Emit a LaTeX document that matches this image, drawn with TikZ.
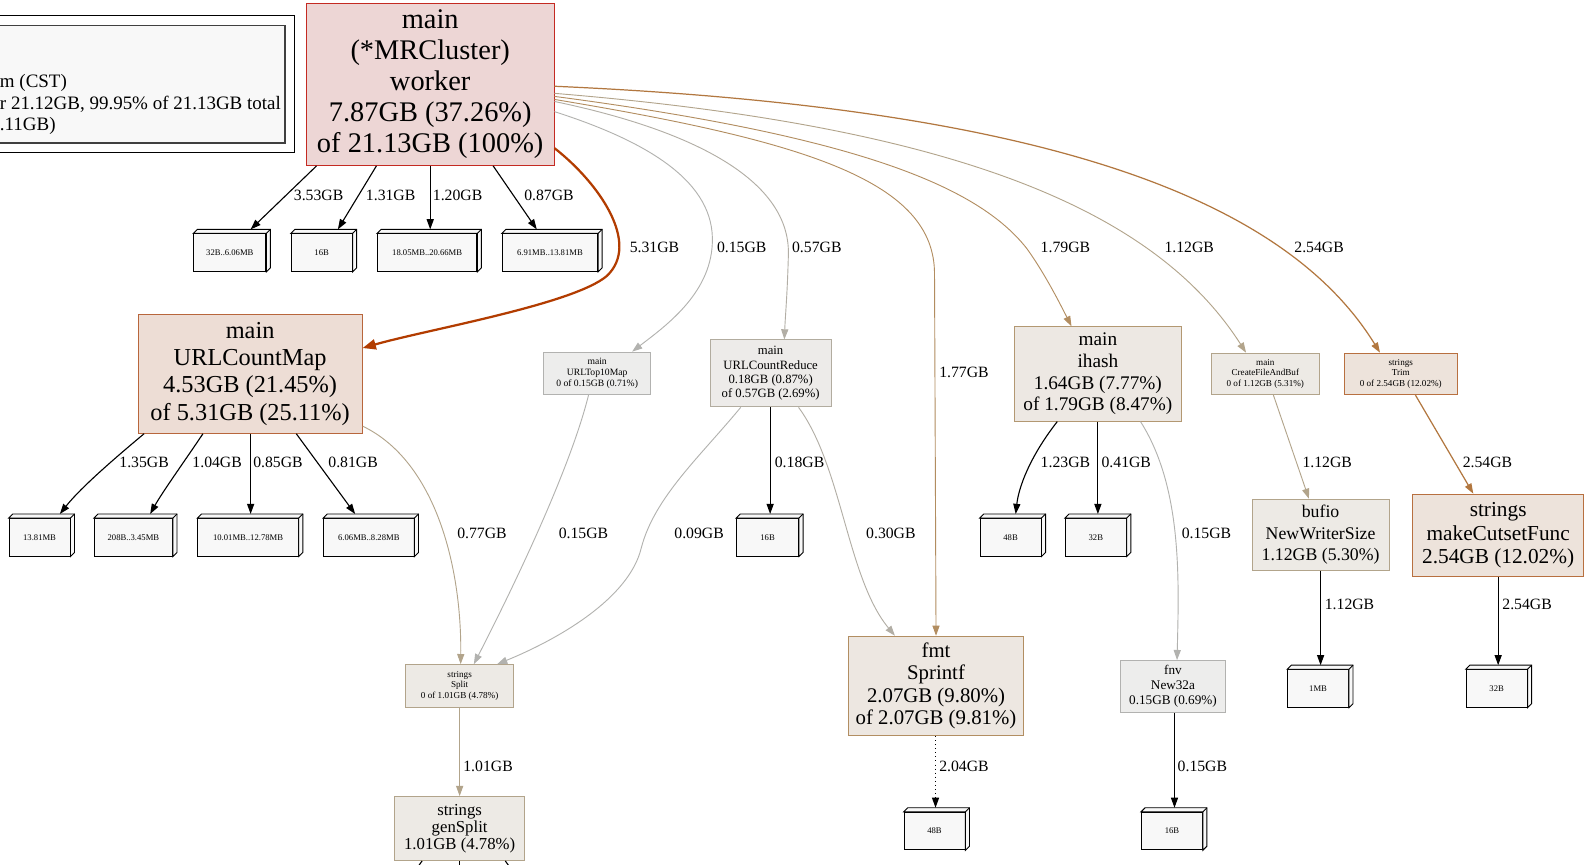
\documentclass[tikz,border=0pt]{standalone}
\usepackage{fontspec}
\setmainfont{Liberation Serif}
\usetikzlibrary{arrows.meta}

\definecolor{wkfill}{HTML}{EDD6D5}
\definecolor{wkline}{HTML}{C42A22}
\definecolor{ucmfill}{HTML}{EDDDD5}
\definecolor{ucmline}{HTML}{B8663C}
\definecolor{hotedge}{HTML}{B23C00}
\definecolor{grayfill}{HTML}{EDEDEC}
\definecolor{grayline}{HTML}{B2B2B0}
\definecolor{ucrfill}{HTML}{EDEBE9}
\definecolor{ucrline}{HTML}{B2AC9F}
\definecolor{tanfill}{HTML}{EDEAE5}
\definecolor{tanline}{HTML}{B2A48B}
\definecolor{ihfill}{HTML}{EDE8E3}
\definecolor{ihline}{HTML}{B39872}
\definecolor{spfill}{HTML}{EDE7E1}
\definecolor{spline}{HTML}{B28E62}
\definecolor{orfill}{HTML}{EDE3DB}
\definecolor{orline}{HTML}{B87040}
\definecolor{boxfill}{HTML}{F8F8F8}
\definecolor{eg}{HTML}{B2B2AF}
\definecolor{egt}{HTML}{B2AEA5}
\definecolor{etan}{HTML}{B2A48B}
\definecolor{ebrn}{HTML}{B28D60}
\definecolor{eorg}{HTML}{B2773F}

\begin{document}
\begin{tikzpicture}[x=1pt, y=-1pt,
  fn/.style={draw, rectangle, inner sep=0pt, align=center, line width=0.9pt},
  blk/.style={draw, fill=boxfill, inner sep=0pt, minimum height=37pt, font=\fontsize{8.5}{9}\selectfont, line width=0.9pt},
  lbl/.style={font=\fontsize{15.5}{17}\selectfont, inner sep=0pt},
  leg/.style={font=\fontsize{18.7}{21}\selectfont, inner sep=0pt},
  ed/.style={-{Triangle[length=10pt,width=7pt]}, line width=1.1pt},
  ged/.style={-{Triangle[length=10pt,width=7pt]}, line width=0.9pt}]
\fill[white] (0,0) rectangle (1568,852);
\useasboundingbox (0,0) rectangle (1568,852);

% legend (cut at the left)
\draw[line width=0.9pt] (-10,15) rectangle (290,150);
\draw[line width=1.6pt, draw=black!75, fill=boxfill] (-10,25) rectangle (281,141);
\coordinate (ly1) at (0,82);
\coordinate (ly3) at (0,124);
\node[leg, anchor=east] (lg2) at (277,103) {r 21.12GB, 99.95\% of 21.13GB total};
\node[leg, anchor=west] (lg1) at (lg2.west |- ly1) {m (CST)};
\node[leg, anchor=west] (lg3) at (lg2.west |- ly3) {.11GB)};

% functions
\node[fn, fill=wkfill, draw=wkline, minimum width=244pt, minimum height=160pt, font=\fontsize{28}{30.5}\selectfont] (worker) at (424,83) {main\\(*MRCluster)\\worker\\7.87GB (37.26\%)\\of 21.13GB (100\%)};
\node[fn, fill=ucmfill, draw=ucmline, minimum width=221pt, minimum height=117pt, font=\fontsize{24}{26.7}\selectfont] (ucm) at (246.5,368.5) {main\\URLCountMap\\4.53GB (21.45\%)\\of 5.31GB (25.11\%)};
\node[fn, fill=grayfill, draw=grayline, minimum width=105pt, minimum height=42pt, font=\fontsize{9.5}{10.5}\selectfont] (top10) at (588.5,368) {main\\URLTop10Map\\0 of 0.15GB (0.71\%)};
\node[fn, fill=ucrfill, draw=ucrline, minimum width=119pt, minimum height=66pt, font=\fontsize{12.5}{14}\selectfont] (ucr) at (759.5,368) {main\\URLCountReduce\\0.18GB (0.87\%)\\of 0.57GB (2.69\%)};
\node[fn, fill=ihfill, draw=ihline, minimum width=164pt, minimum height=93pt, font=\fontsize{19}{21.3}\selectfont] (ihash) at (1082,368.5) {main\\ihash\\1.64GB (7.77\%)\\of 1.79GB (8.47\%)};
\node[fn, fill=tanfill, draw=tanline, minimum width=106pt, minimum height=41pt, font=\fontsize{9}{10.5}\selectfont] (cfab) at (1247,368.5) {main\\CreateFileAndBuf\\0 of 1.12GB (5.31\%)};
\node[fn, fill=orfill, draw=orline, minimum width=111pt, minimum height=41pt, font=\fontsize{9}{10.5}\selectfont] (trim) at (1380.5,368.5) {strings\\Trim\\0 of 2.54GB (12.02\%)};
\node[fn, fill=tanfill, draw=tanline, minimum width=106pt, minimum height=42pt, font=\fontsize{9}{10.5}\selectfont] (split) at (453,676) {strings\\Split\\0 of 1.01GB (4.78\%)};
\node[fn, fill=tanfill, draw=tanline, minimum width=128pt, minimum height=63pt, font=\fontsize{16.5}{17}\selectfont] (gensplit) at (453,816.5) {strings\\genSplit\\1.01GB (4.78\%)};
\node[fn, fill=spfill, draw=spline, minimum width=173pt, minimum height=98pt, font=\fontsize{20.5}{22.3}\selectfont] (sprintf) at (922.5,676) {fmt\\Sprintf\\2.07GB (9.80\%)\\of 2.07GB (9.81\%)};
\node[fn, fill=grayfill, draw=grayline, minimum width=104pt, minimum height=51pt, font=\fontsize{13}{14.5}\selectfont] (fnv) at (1156,676.5) {fnv\\New32a\\0.15GB (0.69\%)};
\node[fn, fill=tanfill, draw=tanline, minimum width=135pt, minimum height=70pt, font=\fontsize{17.5}{21}\selectfont] (bufio) at (1301.5,527) {bufio\\NewWriterSize\\1.12GB (5.30\%)};
\node[fn, fill=orfill, draw=orline, minimum width=169pt, minimum height=81pt, font=\fontsize{21}{23.5}\selectfont] (cutset) at (1476.5,527.5) {strings\\makeCutsetFunc\\2.54GB (12.02\%)};

% allocation sizes
\node[blk, minimum width=71pt] (b1) at (226.5,249) {32B..6.06MB};
\node[blk, minimum width=60pt] (b2) at (317,249) {16B};
\node[blk, minimum width=98pt] (b3) at (421,249) {18.05MB..20.66MB};
\node[blk, minimum width=94pt] (b4) at (542,249) {6.91MB..13.81MB};
\node[blk, minimum width=60pt] (c1) at (39,529.5) {13.81MB};
\node[blk, minimum width=77pt] (c2) at (131.5,529.5) {208B..3.45MB};
\node[blk, minimum width=99pt] (c3) at (244.5,529.5) {10.01MB..12.78MB};
\node[blk, minimum width=89pt] (c4) at (363.5,529.5) {6.06MB..8.28MB};
\node[blk, minimum width=61pt] (d1) at (756.5,529.5) {16B};
\node[blk, minimum width=60pt] (e1) at (996,529.5) {48B};
\node[blk, minimum width=60pt] (e2) at (1080,529.5) {32B};
\node[blk, minimum width=60pt] (f1) at (921,819) {48B};
\node[blk, minimum width=60pt] (g1) at (1155,819) {16B};
\node[blk, minimum width=60pt] (h1) at (1299,678.5) {1MB};
\node[blk, minimum width=60pt] (h2) at (1475,678.5) {32B};
\foreach \n in {b1,b2,b3,b4,c1,c2,c3,c4,d1,e1,e2,f1,g1,h1,h2} {
  \draw[line width=0.9pt, fill=boxfill] (\n.north west) -- ++(4,-4) -- ([shift={(4pt,4pt)}]\n.north east) -- ([shift={(4pt,4pt)}]\n.south east) -- (\n.south east) -- (\n.north east) -- cycle;
  \draw[line width=0.9pt] (\n.north east) -- ++(4,-4);
}

% worker edges
\draw[ed] ([xshift=-112pt]worker.south) -- ([xshift=20.5pt,yshift=4pt]b1.north);
\draw[ed] ([xshift=-53pt]worker.south) -- ([xshift=16pt,yshift=4pt]b2.north);
\draw[ed] (worker.south) -- ([xshift=3pt,yshift=4pt]b3.north);
\draw[ed] ([xshift=62pt]worker.south) -- ([xshift=-13pt,yshift=4pt]b4.north);
\draw[-{Triangle[length=13pt,width=10pt]}, line width=2.2pt, draw=hotedge] ([yshift=-63pt]worker.east) .. controls (590,180) and (632,240) .. (598,272) .. controls (565,300) and (420,325) .. ([yshift=25.5pt]ucm.east);
\draw[ged, draw=eg] ([yshift=-27pt]worker.east) .. controls (640,140) and (705,180) .. (702,240) .. controls (700,290) and (655,322) .. ([xshift=34.5pt]top10.north);
\draw[ged, draw=egt] ([yshift=-17pt]worker.east) .. controls (690,130) and (778,180) .. (777,250) .. controls (776,290) and (774,310) .. ([xshift=13.5pt]ucr.north);
\draw[ged, draw=ebrn] ([yshift=-15pt]worker.east) .. controls (800,140) and (921,180) .. (921,270) -- (sprintf.north);
\draw[ged, draw=ebrn] ([yshift=-12pt]worker.east) .. controls (850,135) and (965,185) .. (1012,245) .. controls (1030,270) and (1045,300) .. ([xshift=-26pt]ihash.north);
\draw[ged, draw=etan] ([yshift=-9pt]worker.east) .. controls (950,125) and (1140,210) .. ([xshift=-19pt]cfab.north);
\draw[ged, draw=eorg, line width=1.2pt] ([yshift=-2pt]worker.east) .. controls (1000,105) and (1260,185) .. ([xshift=-20.5pt]trim.north);
\node[lbl] (l1) at (314,193) {3.53GB};
\node[lbl] (l2) at (385,193) {1.31GB};
\node[lbl] (l3) at (451,193) {1.20GB};
\node[lbl] (l4) at (541,193) {0.87GB};
\node[lbl] (l5) at (645,244) {5.31GB};
\node[lbl] (l6) at (731,244) {0.15GB};
\node[lbl] (l7) at (805,244) {0.57GB};
\node[lbl] (l8) at (950,367) {1.77GB};
\node[lbl] (l9) at (1050,244) {1.79GB};
\node[lbl] (l10) at (1172,244) {1.12GB};
\node[lbl] (l11) at (1300,244) {2.54GB};

% URLCountMap edges
\draw[ed] ([xshift=-104.5pt]ucm.south) .. controls (115,450) and (80,480) .. ([xshift=20pt,yshift=4pt]c1.north);
\draw[ed] ([xshift=-46.5pt]ucm.south) .. controls (185,450) and (160,485) .. ([xshift=16.5pt,yshift=4pt]c2.north);
\draw[ed] ([xshift=0.5pt]ucm.south) -- ([xshift=2.5pt,yshift=4pt]c3.north);
\draw[ed] ([xshift=45.5pt]ucm.south) -- ([xshift=-13.5pt,yshift=4pt]c4.north);
\draw[ged, draw=etan] ([yshift=-51.5pt]ucm.east) .. controls (430,455) and (455,560) .. ([xshift=1pt]split.north);
\node[lbl] (l12) at (142,456) {1.35GB};
\node[lbl] (l13) at (214,456) {1.04GB};
\node[lbl] (l14) at (274,456) {0.85GB};
\node[lbl] (l15) at (348,456) {0.81GB};
\node[lbl] (l16) at (475,526) {0.77GB};

% middle edges
\draw[ged, draw=eg] ([xshift=-8.5pt]top10.south) .. controls (560,470) and (495,600) .. ([xshift=14pt]split.north);
\draw[ged, draw=eg] ([xshift=-29.5pt]ucr.south) .. controls (690,450) and (645,490) .. (632,540) .. controls (620,590) and (550,630) .. ([xshift=37pt]split.north);
\draw[ed] ([xshift=-0.5pt]ucr.south) -- ([xshift=2.5pt,yshift=4pt]d1.north);
\draw[ged, draw=egt] ([xshift=27.5pt]ucr.south) .. controls (830,460) and (835,570) .. ([xshift=-40.5pt]sprintf.north);
\draw[ged, draw=etan] (split.south) -- (gensplit.north);
\draw[line width=1.1pt] ([xshift=-37pt]gensplit.south) -- ++(-10,14);
\draw[line width=1.1pt] (gensplit.south) -- ++(0,14);
\draw[line width=1.1pt] ([xshift=45pt]gensplit.south) -- ++(10,14);
\draw[ed, dash pattern=on 1pt off 3pt] ([xshift=-0.5pt]sprintf.south) -- ([xshift=1pt,yshift=4pt]f1.north);
\node[lbl] (l17) at (575,526) {0.15GB};
\node[lbl] (l18) at (689,526) {0.09GB};
\node[lbl] (l19) at (788,456) {0.18GB};
\node[lbl] (l20) at (878,526) {0.30GB};
\node[lbl] (l21) at (481,755) {1.01GB};
\node[lbl] (l22) at (950,755) {2.04GB};

% right side edges
\draw[ed] ([xshift=-40pt]ihash.south) .. controls (1015,450) and (1004,480) .. ([xshift=5pt,yshift=4pt]e1.north);
\draw[ed] (ihash.south) -- ([xshift=2pt,yshift=4pt]e2.north);
\draw[ged, draw=eg] ([xshift=42pt]ihash.south) .. controls (1165,480) and (1162,570) .. ([xshift=4pt]fnv.north);
\draw[ed] ([xshift=1.5pt]fnv.south) -- ([xshift=2.5pt,yshift=4pt]g1.north);
\draw[ged, draw=etan] ([xshift=8pt]cfab.south) -- ([xshift=-11.5pt]bufio.north);
\draw[ged, draw=eorg, line width=1.2pt] ([xshift=14.5pt]trim.south) -- ([xshift=-24.5pt]cutset.north);
\draw[ed] (bufio.south) -- ([xshift=2.5pt,yshift=4pt]h1.north);
\draw[ed] (cutset.south) -- ([xshift=1.5pt,yshift=4pt]h2.north);
\node[lbl] (l23) at (1050,456) {1.23GB};
\node[lbl] (l24) at (1110,456) {0.41GB};
\node[lbl] (l25) at (1189,526) {0.15GB};
\node[lbl] (l26) at (1185,755) {0.15GB};
\node[lbl] (l27) at (1308,456) {1.12GB};
\node[lbl] (l28) at (1466,456) {2.54GB};
\node[lbl] (l29) at (1330,596) {1.12GB};
\node[lbl] (l30) at (1505,596) {2.54GB};
\end{tikzpicture}
\end{document}
